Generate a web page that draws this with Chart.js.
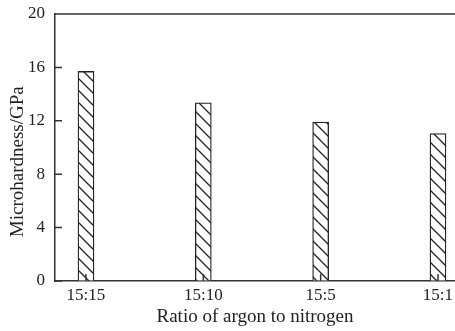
<!DOCTYPE html>
<html>
<head>
<meta charset="utf-8">
<script src="https://cdn.jsdelivr.net/npm/chart.js@4.4.1/dist/chart.umd.min.js"></script>
<style>
  html, body { margin: 0; padding: 0; background: #fff; }
  #wrap { width: 455px; height: 331px; }
</style>
</head>
<body>
<div id="wrap"><canvas id="hardChart"></canvas></div>
<script>
// valori
const ratios = ['15:15', '15:10', '15:5', '15:1'];
const hardness = [15.7, 13.35, 11.9, 11.05];
const yTicks = [0, 4, 8, 12, 16, 20];

// hasura "\\" pentru bare
function hatchPattern() {
    const s = 12;
    const c = document.createElement('canvas');
    c.width = s; c.height = s;
    const g = c.getContext('2d');
    g.fillStyle = '#fff';
    g.fillRect(0, 0, s, s);
    g.strokeStyle = '#222';
    g.lineWidth = 1.3;
    g.beginPath();
    g.moveTo(-2, -2); g.lineTo(s + 2, s + 2);
    g.moveTo(-2, s - 2); g.lineTo(2, s + 2);
    g.moveTo(s - 2, -2); g.lineTo(s + 2, 2);
    g.stroke();
    return g.createPattern(c, 'repeat');
}

// tick-uri spre interior + linia de sus
const frame = {
    id: 'frame',
    afterDatasetsDraw(chart) {
        const { ctx, chartArea, scales } = chart;
        ctx.save();
        ctx.strokeStyle = '#333';
        ctx.lineWidth = 1.5;
        ctx.beginPath();
        ctx.moveTo(chartArea.left, chartArea.top);
        ctx.lineTo(chartArea.right, chartArea.top);
        scales.y.ticks.forEach((t, i) => {
            const py = scales.y.getPixelForTick(i);
            ctx.moveTo(chartArea.left, py);
            ctx.lineTo(chartArea.left + 7, py);
        });
        scales.x.ticks.forEach((t, i) => {
            const px = scales.x.getPixelForTick(i);
            ctx.moveTo(px, chartArea.bottom);
            ctx.lineTo(px, chartArea.bottom - 7);
        });
        ctx.stroke();
        ctx.restore();
    }
};

const ctx = document.getElementById('hardChart').getContext('2d');
const hardChart = new Chart(ctx, {
    type: 'bar',
    data: {
        datasets: [{
            data: hardness.map((v, i) => ({ x: i, y: v })),
            backgroundColor: hatchPattern(),
            borderColor: '#222',
            borderWidth: 1.3,
            barThickness: 16
        }]
    },
    options: {
        responsive: true,
        maintainAspectRatio: false,
        animation: false,
        layout: { padding: { top: 14, right: 0, left: 0, bottom: 0 } },
        plugins: { legend: { display: false }, tooltip: { enabled: false } },
        scales: {
            x: {
                type: 'linear',
                offset: false,
                min: -0.264,
                max: 3.145,
                afterDataLimits(scale) {
                    scale.min = -0.264;
                    scale.max = 3.145;
                },
                afterBuildTicks(scale) {
                    scale.ticks = ratios.map((r, i) => ({ value: i }));
                },
                afterFit(scale) {
                    scale.height = 50;
                    scale.paddingLeft = 0;
                    scale.paddingRight = 0;
                },
                grid: { display: true, offset: false, drawOnChartArea: false, drawTicks: false },
                border: { display: true, color: '#333', width: 1.5 },
                ticks: {
                    padding: 4,
                    color: '#222',
                    font: { family: 'Liberation Serif', size: 17 },
                    callback: (v) => ratios[v]
                },
                title: {
                    display: true,
                    text: 'Ratio of argon to nitrogen',
                    color: '#222',
                    font: { family: 'Liberation Serif', size: 19 },
                    padding: { top: 0, bottom: 3 }
                }
            },
            y: {
                min: 0,
                max: 20,
                afterBuildTicks(scale) {
                    scale.ticks = yTicks.map(v => ({ value: v }));
                },
                afterFit(scale) {
                    scale.width = 55;
                    scale.paddingTop = 0;
                    scale.paddingBottom = 0;
                },
                grid: { display: true, drawOnChartArea: false, drawTicks: false },
                border: { display: true, color: '#333', width: 1.5 },
                ticks: {
                    padding: 10,
                    color: '#222',
                    font: { family: 'Liberation Serif', size: 17 }
                },
                title: {
                    display: true,
                    text: 'Microhardness/GPa      ',
                    color: '#222',
                    font: { family: 'Liberation Serif', size: 19 },
                    padding: { top: 7, bottom: 0 }
                }
            }
        }
    },
    plugins: [frame]
});
</script>
</body>
</html>
